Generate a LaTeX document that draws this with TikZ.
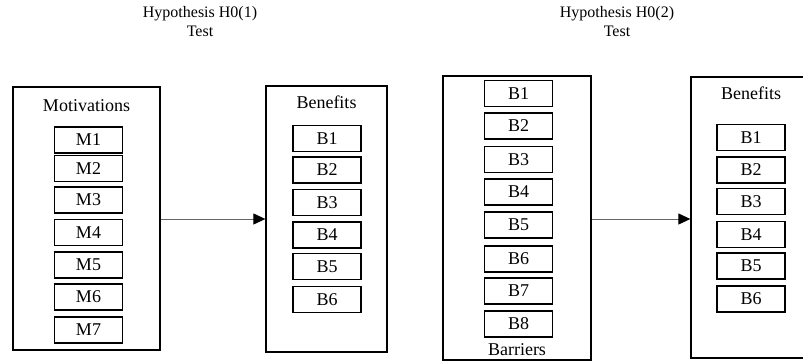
\documentclass[tikz,border=0pt]{standalone}
\usepackage{fontspec}
\setmainfont{Liberation Serif}
\usetikzlibrary{arrows.meta}
\begin{document}
\begin{tikzpicture}[x=1pt, y=-1pt,
    group/.style={draw, line width=1.3pt, inner sep=0pt},
    item/.style={draw, line width=1.6pt, minimum width=68pt, minimum height=26pt, inner sep=0pt, font=\fontsize{18}{20}\selectfont},
    caption/.style={font=\fontsize{18}{20}\selectfont},
    title/.style={align=center, font=\fontsize{16}{19}\selectfont},
    link/.style={draw=black!60, line width=1pt, -{Triangle[length=12pt, width=11pt, color=black]}}]
  \useasboundingbox (0, 0) rectangle (803, 361);
  % titles
  \node[title] (test1) at (200, 22) {Hypothesis H0(1)\\Test};
  \node[title] (test2) at (617, 22) {Hypothesis H0(2)\\Test};
  % first test
  \node[group, minimum width=147pt, minimum height=263pt] (motiv) at (86.5, 218.5) {};
  \node[caption] (motivlabel) at (86.5, 106) {Motivations};
  \foreach \i/\y in {1/140, 2/168.5, 3/200, 4/232.5, 5/265, 6/297, 7/330}
    \node[item] (m\i) at (88.5, \y) {M\i};
  \node[group, minimum width=121pt, minimum height=266pt] (benef) at (326.5, 219) {};
  \node[caption] (beneflabel) at (326.5, 102) {Benefits};
  \foreach \i/\y in {1/138.5, 2/170, 3/202.5, 4/235, 5/266.5, 6/299.5}
    \node[item] (b\i) at (327, \y) {B\i};
  % second test
  \node[group, minimum width=148pt, minimum height=284pt] (barr) at (517, 218) {};
  \node[caption] (barrlabel) at (517, 350) {Barriers};
  \foreach \i/\y in {1/93.5, 2/126, 3/159.5, 4/192, 5/225, 6/259, 7/291, 8/324}
    \node[item] (r\i) at (518.5, \y) {B\i};
  \node[group, minimum width=130pt, minimum height=281pt] (benefb) at (756, 217.5) {};
  \node[caption] (benefblabel) at (751, 93) {Benefits};
  \foreach \i/\y in {1/137.5, 2/170, 3/201.5, 4/234.5, 5/266, 6/299}
    \node[item] (c\i) at (751, \y) {B\i};
  % links
  \draw[link] (motiv.east |- 0, 219) -- (benef.west |- 0, 219);
  \draw[link] (barr.east |- 0, 219) -- (benefb.west |- 0, 219);
\end{tikzpicture}
\end{document}
